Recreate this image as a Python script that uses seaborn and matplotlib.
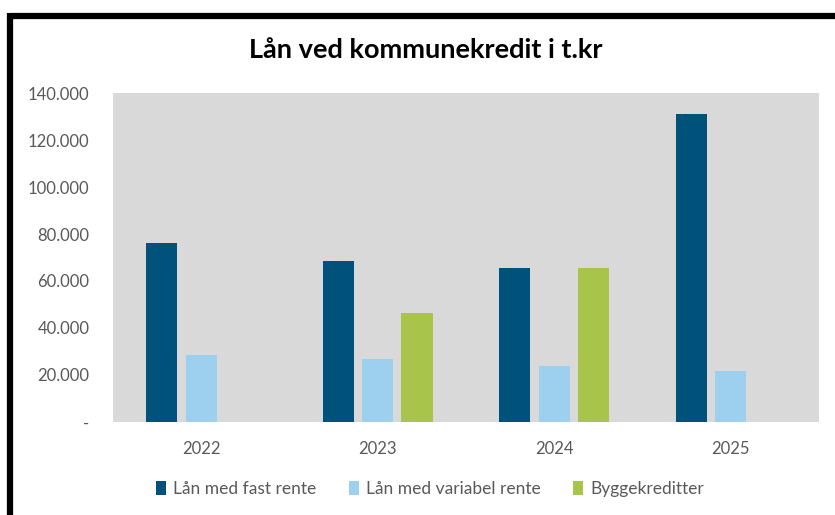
import pandas as pd
import matplotlib.pyplot as plt
import seaborn as sns
from matplotlib.lines import Line2D
from matplotlib.ticker import FuncFormatter

# data (t.kr)
years = ["2022", "2023", "2024", "2025"]
fast_rente = [76100, 68700, 65500, 131200]
variabel_rente = [28700, 26600, 24000, 21600]
byggekreditter = [0, 46500, 65500, 0]
series_names = ["Lån med fast rente", "Lån med variabel rente", "Byggekreditter"]
colors = ["#00527A", "#9DCFEE", "#A9C44A"]

df = pd.DataFrame({
    "year": years * 3,
    "value": fast_rente + variabel_rente + byggekreditter,
    "serie": [series_names[0]] * 4 + [series_names[1]] * 4 + [series_names[2]] * 4,
})

sns.set_style("white")
plt.rcParams["font.family"] = ["Lato", "DejaVu Sans"]

fig = plt.figure(figsize=(8.35, 5.15), dpi=100)
ax = fig.add_axes([0.1353, 0.1806, 0.8455, 0.6388])

sns.barplot(
    data=df, x="year", y="value", hue="serie",
    palette=colors, width=0.668, gap=0.21,
    linewidth=0, saturation=1, ax=ax,
)

ax.set_facecolor("#D9D9D9")
ax.set_ylim(0, 140000)
ax.set_yticks(range(0, 140001, 20000))
ax.yaxis.set_major_formatter(
    FuncFormatter(lambda v, p: "-" if v == 0 else f"{int(v):,}".replace(",", "."))
)
ax.set_xlabel("")
ax.set_ylabel("")
for s in ax.spines.values():
    s.set_visible(False)
ax.tick_params(axis="y", length=0, pad=17, labelsize=12, labelcolor="#595959")
ax.tick_params(axis="x", length=0, pad=14, labelsize=12, labelcolor="#595959")
ax.grid(False)

ax.legend_.remove()
handles, labels = ax.get_legend_handles_labels()
fig.legend(
    handles, labels, loc="center", bbox_to_anchor=(0.515, 0.05),
    ncol=3, frameon=False, fontsize=12.5, labelcolor="#595959",
    handlelength=0.55, handleheight=0.85, handletextpad=0.4, columnspacing=1.9,
)

fig.text(0.51, 0.902, "Lån ved kommunekredit i t.kr", ha="center", va="center",
         fontsize=19.5, fontweight="bold", color="black")

# black frame on top and left edges
fig.add_artist(Line2D([0.0125, 1.0], [0.969, 0.969], transform=fig.transFigure,
                      color="black", linewidth=4.5, solid_capstyle="butt"))
fig.add_artist(Line2D([0.0125, 0.0125], [0.0, 0.9745], transform=fig.transFigure,
                      color="black", linewidth=4.5, solid_capstyle="butt"))

fig.savefig("out.png", dpi=100, facecolor="white")
